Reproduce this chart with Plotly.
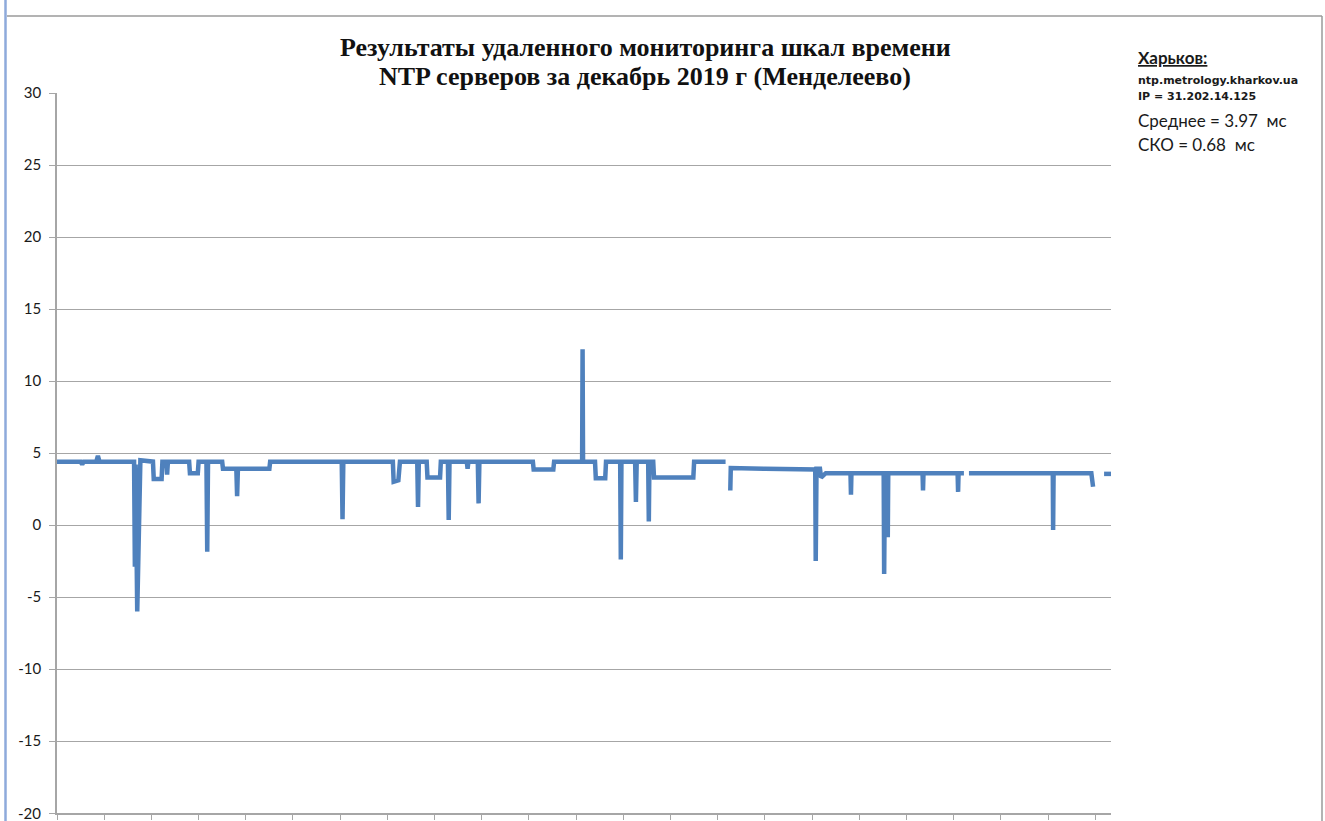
import plotly.graph_objects as go

# ---- data ----
# sample index along December 2019 (axis 0..670, a tick every 30 samples)
sample_idx = [
    0, 15, 16, 17, 25, 26, 27, 49, 49.5, 50, 51, 52, 53, 61, 61.5, 66.5, 67, 69.5, 70, 70.5,
    84, 84.5, 89.5, 90, 95, 95.5, 96, 105, 105.5, 114, 114.5, 115, 135, 135.5, 181, 181.5, 182,
    213.5, 214, 217, 218, 229, 229.5, 230, 235, 235.5, 243.5, 244, 248.5, 249, 249.5, 260.5, 261,
    261.5, 267.5, 268, 268.5, 302.5, 303, 315.5, 316, 333.8, 334.1, 334.4, 342, 342.5, 348.5, 349,
    358, 358.4, 358.8, 367.5, 368, 368.5, 375.8, 376.2, 376.6, 379, 379.5, 404.5, 405, 425, None,
    428, 428.3, 450, 482, 482.3, 482.8, 485, 485.7, 488.7, 504.4, 504.7, 505, 525.5, 525.8, 526.3,
    527.8, 528.1, 528.4, 550.2, 550.5, 550.8, 572.5, 572.8, 573.1, 576.5, None,
    579.7, 633, 633.2, 633.5, 657.5, 658.6, None,
    665.6, 670,
]
# time-scale offset, ms
offset_ms = [
    4.4, 4.4, 4.2, 4.4, 4.4, 4.8, 4.4, 4.4, -2.9, 4.2, -6.0, -2.0, 4.5, 4.4, 3.2, 3.2, 4.4, 4.4, 3.5, 4.4,
    4.4, 3.6, 3.6, 4.4, 4.4, -1.85, 4.4, 4.4, 3.9, 3.9, 2.0, 3.9, 3.9, 4.4, 4.4, 0.4, 4.4,
    4.4, 3.0, 3.1, 4.4, 4.4, 1.25, 4.4, 4.4, 3.3, 3.3, 4.4, 4.4, 0.35, 4.4, 4.4, 3.9,
    4.4, 4.4, 1.5, 4.4, 4.4, 3.85, 3.85, 4.4, 4.4, 12.2, 4.4, 4.4, 3.25, 3.25, 4.4,
    4.4, -2.4, 4.4, 4.4, 1.6, 4.4, 4.4, 0.25, 4.4, 4.4, 3.3, 3.3, 4.4, 4.4, None,
    2.4, 3.95, 3.9, 3.85, -2.5, 3.9, 3.9, 3.3, 3.6, 3.6, 2.1, 3.6, 3.6, -3.4, 3.6,
    3.6, -0.85, 3.6, 3.6, 2.4, 3.6, 3.6, 2.3, 3.6, 3.6, None,
    3.6, 3.6, -0.35, 3.6, 3.6, 2.65, None,
    3.55, 3.55,
]

y_tick_vals = [-20, -15, -10, -5, 0, 5, 10, 15, 20, 25, 30]
y_tick_text = ["-20", "-15", "-10", "-5", "0", "5", "10", "15", "20", "25", "30"]

title_lines = [
    ("Результаты удаленного мониторинга шкал времени", 47),
    ("NTP серверов за декабрь 2019 г (Менделеево)", 76),
]
# (text, font family, size, bold, underline, y pixel)
info_lines = [
    ("Харьков:", "Lato", 17, True, True, 58),
    ("ntp.metrology.kharkov.ua", "DejaVu Sans", 11, True, False, 80),
    ("IP = 31.202.14.125", "DejaVu Sans", 11, True, False, 97),
    ("Среднее = 3.97  мс", "Lato", 17, False, False, 121),
    ("СКО = 0.68  мс", "Lato", 17, False, False, 145),
]

# ---- figure ----
W, H = 1325, 821
L, R, T, B = 57, 1111, 93, 813
GRID = "#a6a6a6"
FONT = "Lato"
TICKFONT = dict(family=FONT, size=15, color="#1a1a1a")


def px_x(px):
    return (px - L) / (R - L)


def px_y(py):
    return (B - py) / (B - T)


fig = go.Figure()
fig.add_trace(go.Scatter(
    x=sample_idx, y=offset_ms, mode="lines",
    line=dict(color="#4f81bd", width=4.5),
    connectgaps=False, hoverinfo="skip", showlegend=False,
))

fig.update_layout(
    width=W, height=H,
    margin=dict(l=L, r=W - R, t=T, b=H - B, pad=0, autoexpand=False),
    paper_bgcolor="white", plot_bgcolor="white",
    font=dict(family=FONT, color="#1a1a1a"),
    showlegend=False,
)
fig.update_xaxes(
    range=[0, 670], tick0=0, dtick=30, ticks="outside", ticklen=5, tickcolor=GRID,
    showticklabels=False, showgrid=False, zeroline=False, automargin=False,
    showline=True, linecolor=GRID, linewidth=1.5,
)
# the lowest label sits on the figure edge, so it is drawn as an annotation
fig.update_yaxes(
    range=[-20, 30], tickvals=y_tick_vals,
    ticktext=["" if v == y_tick_vals[0] else t for v, t in zip(y_tick_vals, y_tick_text)],
    ticks="outside", ticklen=6, tickcolor=GRID, ticklabelstandoff=5,
    tickfont=TICKFONT, automargin=False,
    showgrid=True, gridcolor=GRID, gridwidth=1, zeroline=False,
    showline=True, linecolor=GRID, linewidth=1.5,
)
fig.add_annotation(
    text=y_tick_text[0], xref="paper", yref="y", x=px_x(43), y=y_tick_vals[0],
    xanchor="right", yanchor="middle", showarrow=False, font=TICKFONT,
)

# title (two lines)
for txt, py in title_lines:
    fig.add_annotation(
        text="<b>" + txt + "</b>", xref="paper", yref="paper", x=px_x(645), y=px_y(py),
        xanchor="center", yanchor="middle", showarrow=False, align="center",
        font=dict(family="Liberation Serif", size=26, color="#111111"),
    )
# info block
for txt, fam, size, bold, under, py in info_lines:
    t = txt
    if under:
        t = "<u>" + t + "</u>"
    if bold:
        t = "<b>" + t + "</b>"
    fig.add_annotation(
        text=t, xref="paper", yref="paper", x=px_x(1136), y=px_y(py),
        xanchor="left", yanchor="middle", showarrow=False, align="left",
        font=dict(family=fam, size=size, color="#1a1a1a"),
    )

# chart-area border lines
fig.add_shape(type="line", xref="paper", yref="paper",
              x0=px_x(7), x1=px_x(1322), y0=px_y(16), y1=px_y(16),
              line=dict(color="#9a9a9a", width=1.5))
fig.add_shape(type="line", xref="paper", yref="paper",
              x0=px_x(1322), x1=px_x(1322), y0=px_y(16), y1=px_y(821),
              line=dict(color="#9a9a9a", width=1.5))
fig.add_shape(type="line", xref="paper", yref="paper",
              x0=px_x(5.5), x1=px_x(5.5), y0=px_y(0), y1=px_y(821),
              line=dict(color="#8eaadb", width=2.5))

fig.write_html("out.html", config={"displayModeBar": False},
               post_script="document.body.style.margin='0';")
